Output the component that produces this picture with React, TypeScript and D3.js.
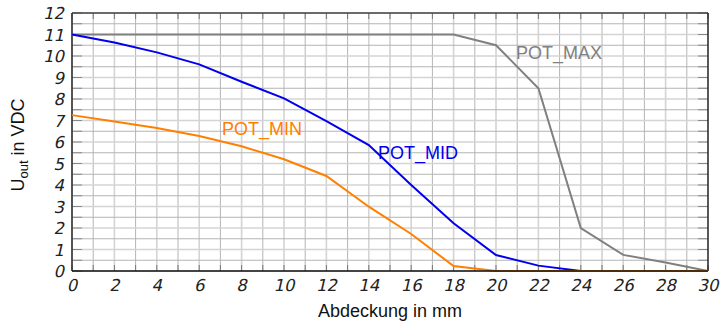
import React from "react";
import * as d3 from "d3";

const xTicks = [0, 2, 4, 6, 8, 10, 12, 14, 16, 18, 20, 22, 24, 26, 28, 30];
const yTicks = [0, 1, 2, 3, 4, 5, 6, 7, 8, 9, 10, 11, 12];

const potMaxX = [0, 18, 20, 22, 24, 26, 28, 30];
const potMaxY = [11, 11, 10.5, 8.5, 2, 0.75, 0.4, 0];

const potMidX = [0, 2, 4, 6, 8, 10, 12, 14, 16, 18, 20, 22, 24, 30];
const potMidY = [11, 10.63, 10.17, 9.61, 8.8, 8.03, 6.97, 5.86, 4.0, 2.22, 0.74, 0.25, 0, 0];

const potMinX = [0, 2, 4, 6, 8, 10, 12, 14, 16, 18, 20, 30];
const potMinY = [7.25, 6.95, 6.65, 6.28, 5.8, 5.2, 4.42, 2.99, 1.72, 0.23, 0, 0];

const W = 725, H = 325;
const L = 72, R = 708, T = 13, B = 271;

export default function App() {
  const x = d3.scaleLinear().domain([0, 30]).range([L, R]);
  const y = d3.scaleLinear().domain([0, 12]).range([B, T]);
  const line = d3.line<[number, number]>().x(d => x(d[0])).y(d => y(d[1]));
  const mk = (xs: number[], ys: number[]) => line(xs.map((v, i) => [v, ys[i]] as [number, number])) || "";

  const xMinor = d3.range(0, 31, 1);
  const yMinor = d3.range(0, 12.01, 0.5);
  const tickFont = "'DejaVu Sans', sans-serif";
  const labelFont = "'Liberation Sans', Arial, sans-serif";

  return (
    <svg width={W} height={H} style={{ position: "absolute", left: 0, top: 0, background: "#fff" }}>
      {/* grid */}
      {xMinor.map(v => (
        <line key={"gx" + v} x1={x(v)} x2={x(v)} y1={T} y2={B}
          stroke={v % 2 === 0 ? "#d4d4d4" : "#b4b4b4"} strokeWidth={v % 2 === 0 ? 1.6 : 1} />
      ))}
      {yMinor.map(v => (
        <line key={"gy" + v} x1={L} x2={R} y1={y(v)} y2={y(v)}
          stroke={Number.isInteger(v) ? "#d4d4d4" : "#b4b4b4"} strokeWidth={Number.isInteger(v) ? 1.6 : 1} />
      ))}
      {/* ticks */}
      {xMinor.map(v => (
        <g key={"tx" + v}>
          <line x1={x(v)} x2={x(v)} y1={T} y2={T + 6} stroke="#777" strokeWidth={1} />
          <line x1={x(v)} x2={x(v)} y1={B} y2={B - 6} stroke="#777" strokeWidth={1} />
        </g>
      ))}
      {yMinor.map(v => (
        <g key={"ty" + v}>
          <line x1={L} x2={L + 10} y1={y(v)} y2={y(v)} stroke="#888" strokeWidth={1} />
          <line x1={R} x2={R - 10} y1={y(v)} y2={y(v)} stroke="#888" strokeWidth={1} />
        </g>
      ))}
      {/* frame */}
      <line x1={L} x2={R} y1={T} y2={T} stroke="#444" strokeWidth={1.3} />
      <line x1={R} x2={R} y1={T} y2={B} stroke="#111" strokeWidth={1.3} />
      <line x1={L} x2={L} y1={T} y2={B} stroke="#333" strokeWidth={1.6} />

      {/* series */}
      <path d={mk(potMaxX, potMaxY)} fill="none" stroke="#808080" strokeWidth={2} />
      <path d={mk(potMidX, potMidY)} fill="none" stroke="#0000ee" strokeWidth={2} />
      <path d={mk(potMinX, potMinY)} fill="none" stroke="#ff8000" strokeWidth={2} />
      <line x1={L} x2={R} y1={B} y2={B} stroke="#111" strokeWidth={1.6} />

      {/* series labels */}
      <text x={222} y={135} fontFamily={labelFont} fontSize={18} fill="#ff8000">POT_MIN</text>
      <text x={378} y={159} fontFamily={labelFont} fontSize={18} fill="#0000ee">POT_MID</text>
      <text x={516} y={59} fontFamily={labelFont} fontSize={18} fill="#808080">POT_MAX</text>

      {/* tick labels */}
      {yTicks.map(v => (
        <text key={"yl" + v} transform={`translate(64,${y(v) + 6}) skewX(-13)`} textAnchor="end" fontFamily={tickFont}
          fontSize={16.5} fill="#222">{v}</text>
      ))}
      {xTicks.map(v => (
        <text key={"xl" + v} transform={`translate(${x(v)},${291}) skewX(-13)`} textAnchor="middle" fontFamily={tickFont}
          fontSize={16.5} fill="#222">{v}</text>
      ))}

      {/* axis titles */}
      <text x={390} y={317} textAnchor="middle" fontFamily={labelFont} fontSize={18} fill="#111">Abdeckung in mm</text>
      <text transform={`translate(24,${145}) rotate(-90)`} textAnchor="middle" fontFamily={labelFont} fontSize={18} fill="#111">
        U<tspan fontSize={13} dy={4}>out</tspan><tspan dy={-4}> in VDC</tspan>
      </text>
    </svg>
  );
}
